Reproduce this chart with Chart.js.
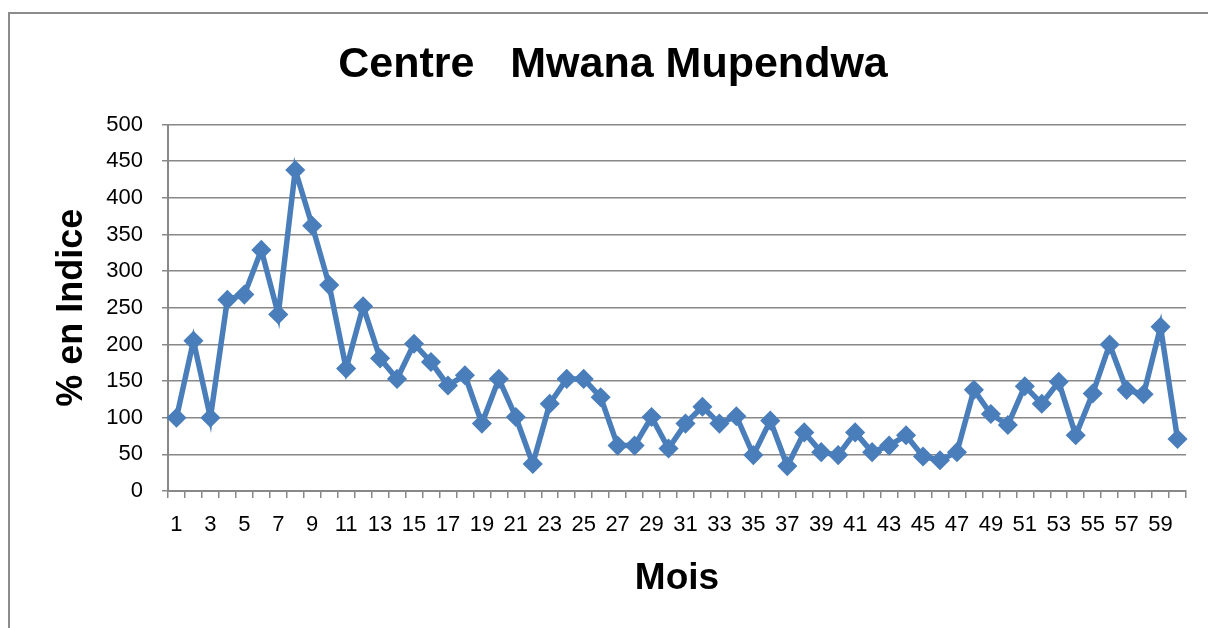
<!DOCTYPE html>
<html>
<head>
<meta charset="utf-8">
<title>Centre Mwana Mupendwa</title>
<script src="https://cdn.jsdelivr.net/npm/chart.js@4"></script>
<style>
    html, body { margin: 0; padding: 0; background: #fff; overflow: hidden; }
    #chart { display: block; }
</style>
</head>
<body>
<canvas id="chart" width="1208" height="628"></canvas>
<script>
// mois 1..60
const mois = [
    '1', '2', '3', '4', '5', '6', '7', '8', '9', '10',
    '11', '12', '13', '14', '15', '16', '17', '18', '19', '20',
    '21', '22', '23', '24', '25', '26', '27', '28', '29', '30',
    '31', '32', '33', '34', '35', '36', '37', '38', '39', '40',
    '41', '42', '43', '44', '45', '46', '47', '48', '49', '50',
    '51', '52', '53', '54', '55', '56', '57', '58', '59', '60'
];

// % en indice
const indice = [
    100, 205, 100, 261, 268, 329, 241, 438, 362, 281,
    167, 252, 181, 153, 201, 176, 144, 158, 92, 153,
    101, 37, 119, 153, 153, 128, 62, 62, 101, 58,
    92, 115, 92, 102, 49, 96, 34, 80, 53, 49,
    80, 53, 62, 76, 47, 42, 53, 138, 105, 90,
    143, 119, 149, 76, 133, 200, 138, 132, 224, 71
];

const titre = 'Centre   Mwana Mupendwa';
const titreX = 'Mois';
const titreY = '% en Indice';

const bleu = '#4a7ebb';
const gris = '#888888';

Chart.defaults.font.family = '"Liberation Sans", Arial, sans-serif';
Chart.defaults.color = '#000';

// fond blanc + cadre gris autour du graphique
const cadrePlugin = {
    id: 'cadre',
    beforeDraw(chart)
    {
        const ctx = chart.ctx;
        ctx.save();
        ctx.fillStyle = '#fff';
        ctx.fillRect(0, 0, chart.width, chart.height);
        ctx.strokeStyle = '#8c8c8c';
        ctx.lineWidth = 2;
        ctx.strokeRect(9, 13, chart.width + 20, chart.height + 20);
        ctx.restore();
    }
};

new Chart(document.getElementById('chart'), {
    type: 'line',
    data: {
        labels: mois,
        datasets: [{
            data: indice,
            borderColor: bleu,
            backgroundColor: bleu,
            borderWidth: 5.5,
            tension: 0,
            pointStyle: 'rectRot',
            pointRadius: 9,
            pointBorderWidth: 1.5,
            pointBackgroundColor: bleu,
            pointBorderColor: bleu
        }]
    },
    options: {
        responsive: false,
        animation: false,
        devicePixelRatio: 1,
        layout: {
            padding: { top: 0, right: 22, bottom: 0, left: 40 }
        },
        plugins: {
            legend: { display: false },
            tooltip: { enabled: false },
            title: {
                display: true,
                text: titre,
                font: { size: 43, weight: 'bold' },
                padding: { top: 39, bottom: 34 }
            }
        },
        scales: {
            x: {
                offset: true,
                afterFit: scale => { scale.height = 137; },
                grid: {
                    offset: true,
                    drawOnChartArea: false,
                    drawTicks: true,
                    tickLength: 7,
                    color: gris,
                    lineWidth: 1.5
                },
                border: { color: gris, width: 2 },
                ticks: {
                    autoSkip: false,
                    maxRotation: 0,
                    minRotation: 0,
                    padding: 14,
                    font: { size: 22 },
                    callback: function (val, i)
                    {
                        return i % 2 === 0 ? this.getLabelForValue(val) : '';
                    }
                },
                title: {
                    display: true,
                    text: titreX,
                    font: { size: 37, weight: 'bold' },
                    padding: { top: 0, bottom: 27 }
                }
            },
            y: {
                min: 0,
                max: 500,
                afterFit: scale => { scale.width = 128; },
                grid: {
                    color: gris,
                    lineWidth: 1.5,
                    drawTicks: true,
                    tickLength: 6
                },
                border: { color: gris, width: 2 },
                ticks: {
                    stepSize: 50,
                    padding: 19,
                    font: { size: 22 }
                },
                title: {
                    display: true,
                    text: titreY,
                    font: { size: 36, weight: 'bold' },
                    padding: { top: 10, bottom: 0 }
                }
            }
        }
    },
    plugins: [cadrePlugin]
});
</script>
</body>
</html>
